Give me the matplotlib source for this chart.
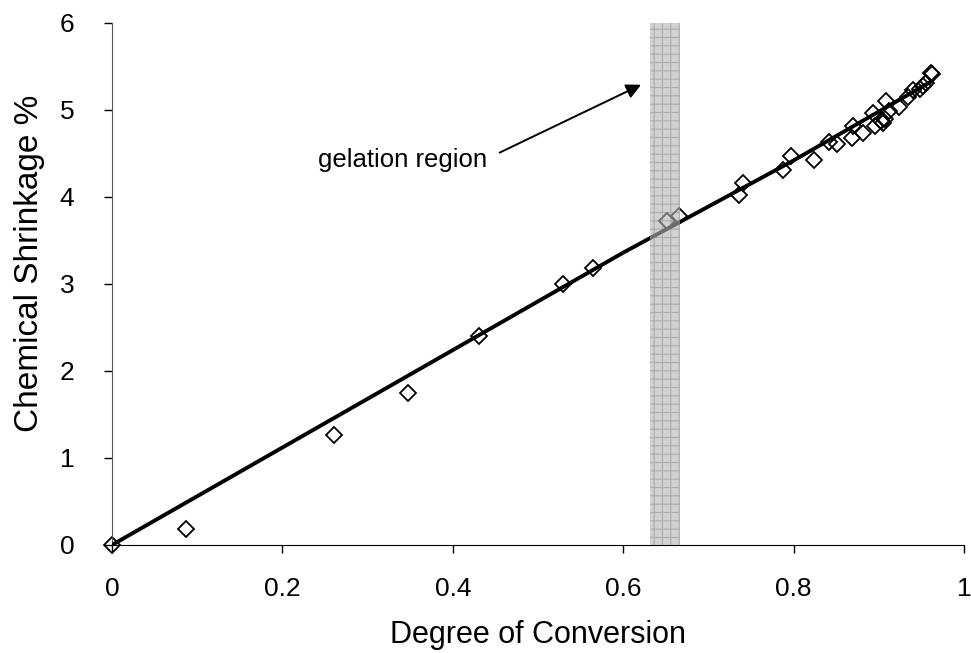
import matplotlib
matplotlib.use("Agg")
import matplotlib.pyplot as plt

plt.rcParams['font.family'] = ['Liberation Sans', 'DejaVu Sans']
plt.rcParams['hatch.linewidth'] = 0.8

# measured data points (degree of conversion, chemical shrinkage %)
conv = [0.0, 0.087, 0.261, 0.348, 0.431, 0.529, 0.565, 0.652, 0.665, 0.736,
        0.741, 0.787, 0.797, 0.824, 0.841, 0.851, 0.869, 0.870, 0.882, 0.893,
        0.895, 0.902, 0.905, 0.907, 0.909, 0.912, 0.924, 0.934, 0.940, 0.948,
        0.952, 0.955, 0.961, 0.963]
shrink = [0.0, 0.18, 1.27, 1.75, 2.40, 3.00, 3.18, 3.72, 3.78, 4.02,
          4.16, 4.31, 4.47, 4.43, 4.63, 4.61, 4.68, 4.82, 4.74, 4.96,
          4.82, 4.87, 4.85, 4.90, 5.10, 4.99, 5.04, 5.15, 5.23, 5.24,
          5.27, 5.31, 5.42, 5.41]

# trend line
line_x = [0.0, 0.2, 0.4, 0.6, 0.8, 0.962]
line_y = [0.0, 1.12, 2.24, 3.36, 4.42, 5.33]

# gelation band
gel_lo, gel_hi = 0.631, 0.667

xticks = [0, 0.2, 0.4, 0.6, 0.8, 1]
xticklabels = ['0', '0.2', '0.4', '0.6', '0.8', '1']
yticks = [0, 1, 2, 3, 4, 5, 6]

fig = plt.figure(figsize=(9.71, 6.53), dpi=100)
ax = fig.add_axes([0.1153, 0.1654, 0.8775, 0.7994])

ax.plot(conv, shrink, linestyle='none', marker='D', markersize=8.5,
        markerfacecolor='none', markeredgecolor='black', markeredgewidth=1.3,
        zorder=2, clip_on=False)
ax.plot(line_x, line_y, color='black', linewidth=2.8, zorder=3,
        solid_capstyle='butt')

ax.axvspan(gel_lo, gel_hi, facecolor=(0.70, 0.70, 0.70, 0.6),
           edgecolor=(0.50, 0.50, 0.50, 0.45), hatch='++', linewidth=0,
           zorder=4)

ax.text(0.440, 4.42, 'gelation region', fontsize=18.5, ha='right',
        va='center')
ax.annotate('', xy=(0.621, 5.29), xytext=(0.455, 4.51),
            arrowprops=dict(arrowstyle='-|>', color='black', lw=1.4,
                            mutation_scale=22, shrinkA=0, shrinkB=0))

ax.set_xlim(0, 1)
ax.set_ylim(0, 6)
ax.set_xticks(xticks)
ax.set_xticklabels(xticklabels)
ax.set_yticks(yticks)
ax.tick_params(axis='both', direction='out', length=6, width=1,
               labelsize=19)
ax.tick_params(axis='x', pad=17)
ax.tick_params(axis='y', pad=21)
ax.spines['top'].set_visible(False)
ax.spines['right'].set_visible(False)
ax.spines['left'].set_color('#555555')
ax.set_xlabel('Degree of Conversion', fontsize=22, labelpad=14)
ax.set_ylabel('Chemical Shrinkage %', fontsize=24)
ax.yaxis.set_label_coords(-0.078, 0.54)

fig.savefig('out.png', dpi=100)
